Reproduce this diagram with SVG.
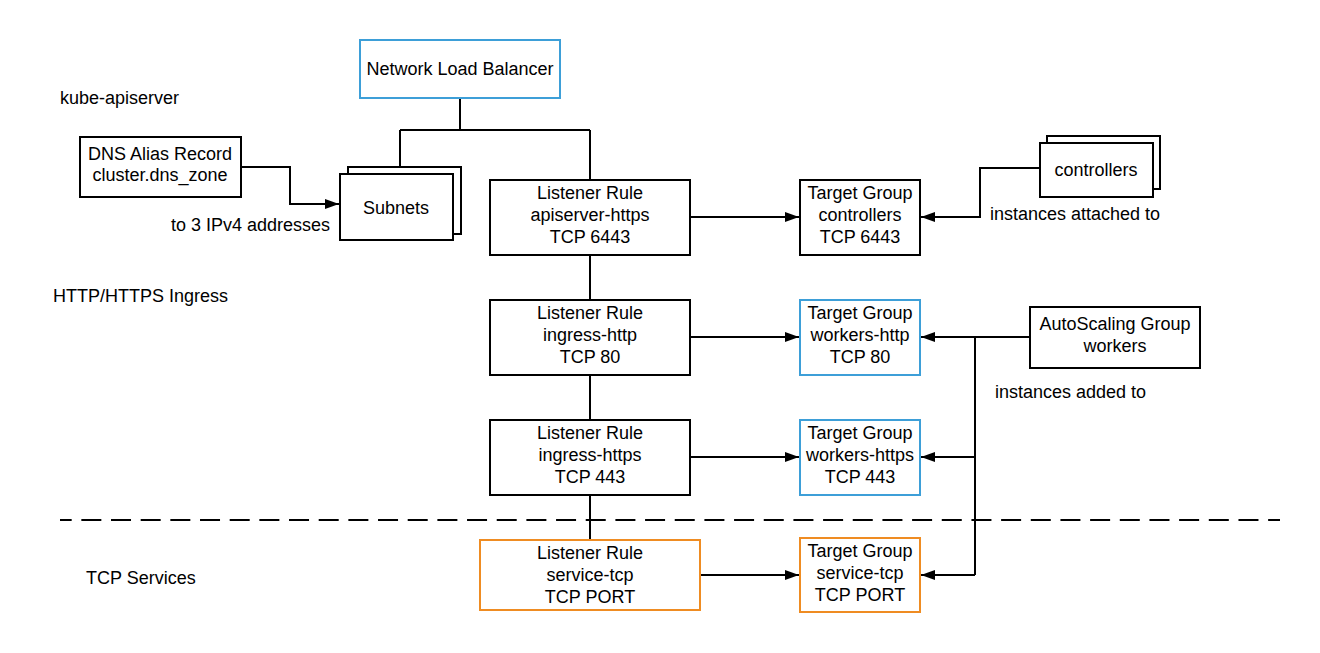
<svg xmlns="http://www.w3.org/2000/svg" width="1320" height="653" viewBox="0 0 1320 653">
<defs>
<marker id="ah" markerWidth="14" markerHeight="10" refX="14" refY="5" orient="auto" markerUnits="userSpaceOnUse">
<path d="M0,0 L14,5 L0,10 Z" fill="#000"/>
</marker>
<style>
.box{fill:#fff;stroke:#000;stroke-width:2}
.blue{fill:#fff;stroke:#3d9fd8;stroke-width:2}
.orange{fill:#fff;stroke:#ef8c22;stroke-width:2}
.t{font-family:"Liberation Sans",Arial,sans-serif;font-size:18px;fill:#000;text-anchor:middle}
.l{font-family:"Liberation Sans",Arial,sans-serif;font-size:18px;fill:#000}
.c{fill:none;stroke:#000;stroke-width:2}
.a{fill:none;stroke:#000;stroke-width:2;marker-end:url(#ah)}
</style>
</defs>
<rect width="1320" height="653" fill="#fff"/>

<g id="labels">
<text class="l" x="60" y="104">kube-apiserver</text>
<text class="l" x="53" y="302">HTTP/HTTPS Ingress</text>
<text class="l" x="86" y="584">TCP Services</text>
<text class="l" x="171" y="231">to 3 IPv4 addresses</text>
<text class="l" x="990" y="220">instances attached to</text>
<text class="l" x="995" y="398">instances added to</text>
</g>

<g id="connectors">
<path class="c" d="M460,98 V130 M400,130 H590 M400,130 V167 M590,130 V180"/>
<path class="a" d="M240,167 H290 V204 H339"/>
<path class="c" d="M590,255 V300 M590,375 V420 M590,495 V540"/>
<path class="a" d="M690,217 H799"/>
<path class="a" d="M690,337 H799"/>
<path class="a" d="M690,457 H799"/>
<path class="a" d="M700,575 H799"/>
<path class="a" d="M1040,168 H980 V217 H921"/>
<path class="a" d="M1030,337 H921"/>
<path class="c" d="M975,337 V575"/>
<path class="a" d="M975,457 H921"/>
<path class="a" d="M975,575 H921"/>
<path class="c" d="M60,520 H1280" stroke-dasharray="20 9.67" stroke-dashoffset="8.33"/>
</g>

<g id="nlb">
<rect class="blue" x="360" y="40" width="200" height="58"/>
<text class="t" x="460" y="75">Network Load Balancer</text>
</g>

<g id="dns">
<rect class="box" x="80" y="137" width="161" height="60"/>
<text class="t" x="160" y="160">DNS Alias Record</text>
<text class="t" x="160" y="181">cluster.dns_zone</text>
</g>

<g id="subnets">
<rect class="box" x="348" y="167" width="113" height="67"/>
<rect class="box" x="340" y="174" width="113" height="66"/>
<text class="t" x="396" y="214">Subnets</text>
</g>

<g id="lr-apiserver">
<rect class="box" x="490" y="180" width="200" height="75"/>
<text class="t" x="590" y="199">Listener Rule</text>
<text class="t" x="590" y="221">apiserver-https</text>
<text class="t" x="590" y="243">TCP 6443</text>
</g>

<g id="lr-http">
<rect class="box" x="490" y="300" width="200" height="75"/>
<text class="t" x="590" y="319">Listener Rule</text>
<text class="t" x="590" y="341">ingress-http</text>
<text class="t" x="590" y="363">TCP 80</text>
</g>

<g id="lr-https">
<rect class="box" x="490" y="420" width="200" height="75"/>
<text class="t" x="590" y="439">Listener Rule</text>
<text class="t" x="590" y="461">ingress-https</text>
<text class="t" x="590" y="483">TCP 443</text>
</g>

<g id="lr-tcp">
<rect class="orange" x="480" y="540" width="220" height="70"/>
<text class="t" x="590" y="559">Listener Rule</text>
<text class="t" x="590" y="581">service-tcp</text>
<text class="t" x="590" y="603">TCP PORT</text>
</g>

<g id="tg-controllers">
<rect class="box" x="800" y="180" width="120" height="75"/>
<text class="t" x="860" y="199">Target Group</text>
<text class="t" x="860" y="221">controllers</text>
<text class="t" x="860" y="243">TCP 6443</text>
</g>

<g id="tg-http">
<rect class="blue" x="800" y="300" width="120" height="75"/>
<text class="t" x="860" y="319">Target Group</text>
<text class="t" x="860" y="341">workers-http</text>
<text class="t" x="860" y="363">TCP 80</text>
</g>

<g id="tg-https">
<rect class="blue" x="800" y="420" width="120" height="75"/>
<text class="t" x="860" y="439">Target Group</text>
<text class="t" x="860" y="461">workers-https</text>
<text class="t" x="860" y="483">TCP 443</text>
</g>

<g id="tg-tcp">
<rect class="orange" x="800" y="538" width="120" height="74"/>
<text class="t" x="860" y="557">Target Group</text>
<text class="t" x="860" y="579">service-tcp</text>
<text class="t" x="860" y="601">TCP PORT</text>
</g>

<g id="controllers">
<rect class="box" x="1047" y="136" width="113" height="53"/>
<rect class="box" x="1040" y="143" width="113" height="54"/>
<text class="t" x="1096" y="176">controllers</text>
</g>

<g id="asg">
<rect class="box" x="1030" y="307" width="170" height="61"/>
<text class="t" x="1115" y="330">AutoScaling Group</text>
<text class="t" x="1115" y="352">workers</text>
</g>
</svg>
